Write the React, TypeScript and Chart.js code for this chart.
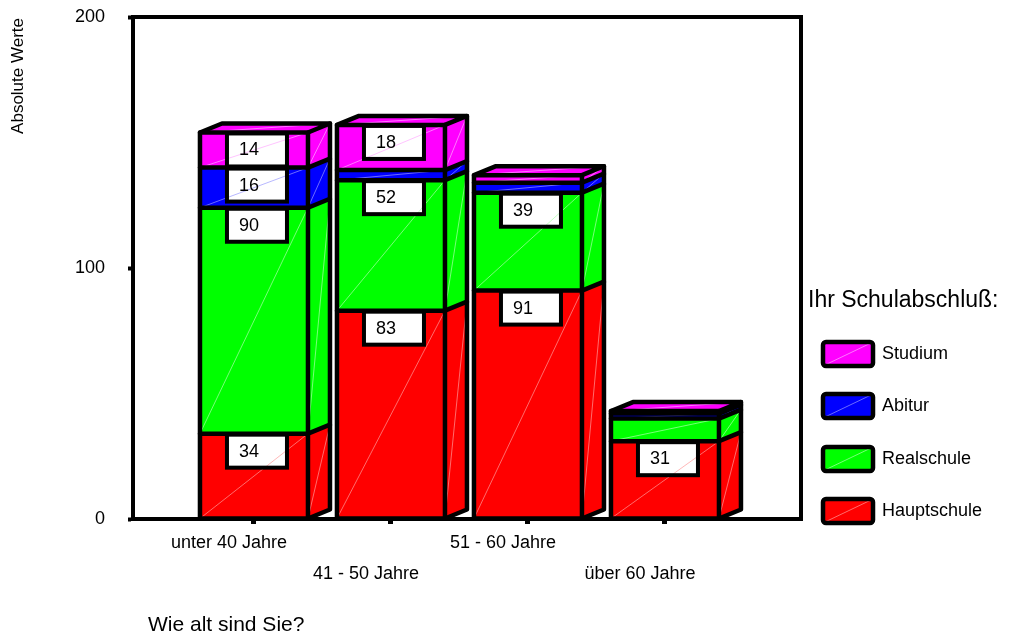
import React, { useEffect, useRef } from "react";
import { Chart, registerables } from "chart.js";

Chart.register(...registerables);

// ---------- data ----------
const ageGroups = ["unter 40 Jahre", "41 - 50 Jahre", "51 - 60 Jahre", "über 60 Jahre"];
const hauptschule = [34, 83, 91, 31];
const realschule = [90, 52, 39, 9];
const abitur = [16, 4, 4, 2];
const studium = [14, 18, 3, 1];
const seriesNames = ["Hauptschule", "Realschule", "Abitur", "Studium"];
const seriesValues = [hauptschule, realschule, abitur, studium];
const seriesColors = ["#ff0000", "#00ff00", "#0000ff", "#ff00ff"];
const seriesTints = ["#ff9a9a", "#aaffaa", "#9a9aff", "#ffaaff"];
const yTicks = [0, 100, 200];
const yTitle = "Absolute Werte";
const xTitle = "Wie alt sind Sie?";
const legendTitle = "Ihr Schulabschluß:";
const labelMin = 10;

// ---------- style ----------
const FF = "'Liberation Sans', Arial, sans-serif";
const DX = 22;
const DY = -9;
const LW = 4.5;

function poly(ctx: CanvasRenderingContext2D, pts: number[][]) {
  ctx.beginPath();
  ctx.moveTo(pts[0][0], pts[0][1]);
  for (let k = 1; k < pts.length; k++) ctx.lineTo(pts[k][0], pts[k][1]);
  ctx.closePath();
}

function line(ctx: CanvasRenderingContext2D, pts: number[][]) {
  ctx.beginPath();
  ctx.moveTo(pts[0][0], pts[0][1]);
  for (let k = 1; k < pts.length; k++) ctx.lineTo(pts[k][0], pts[k][1]);
  ctx.stroke();
}

const threeD = {
  id: "threeD",
  afterDatasetsDraw(chart: any) {
    const ctx: CanvasRenderingContext2D = chart.ctx;
    const metas = chart.data.datasets.map((_: any, d: number) => chart.getDatasetMeta(d));
    ctx.save();
    ctx.lineJoin = "round";
    ctx.lineCap = "round";
    for (let i = 0; i < ageGroups.length; i++) {
      const segs = metas
        .map((m: any, d: number) => {
          const p = m.data[i].getProps(["x", "y", "base", "width"], true);
          return {
            d,
            x: p.x,
            w: p.width,
            y: Math.min(p.y, p.base),
            b: Math.max(p.y, p.base),
            v: seriesValues[d][i],
          };
        })
        .filter((s: any) => s.v > 0);
      const xL = segs[0].x - segs[0].w / 2;
      const xR = segs[0].x + segs[0].w / 2;
      const base = segs[0].b;
      const ts = segs[segs.length - 1];
      const top = ts.y;

      // side faces
      segs.forEach((s: any) => {
        ctx.fillStyle = seriesColors[s.d];
        poly(ctx, [[xR, s.y], [xR + DX, s.y + DY], [xR + DX, s.b + DY], [xR, s.b]]);
        ctx.fill();
      });
      // top face
      ctx.fillStyle = seriesColors[ts.d];
      poly(ctx, [[xL, top], [xL + DX, top + DY], [xR + DX, top + DY], [xR, top]]);
      ctx.fill();

      // label boxes (fill)
      const boxes: any[] = [];
      segs.forEach((s: any) => {
        if (s.v >= labelMin) {
          const bx = segs[0].x - 27;
          const by = s.y + 1;
          boxes.push({ bx, by, v: s.v });
          ctx.fillStyle = "#ffffff";
          ctx.fillRect(bx, by, 60, 33);
        }
      });

      // faint diagonals
      ctx.lineWidth = 0.7;
      segs.forEach((s: any) => {
        ctx.strokeStyle = seriesTints[s.d];
        line(ctx, [[xL, s.b], [xR, s.y]]);
        line(ctx, [[xR, s.b], [xR + DX, s.y + DY]]);
      });
      ctx.strokeStyle = seriesTints[ts.d];
      line(ctx, [[xL, top], [xR + DX, top + DY]]);

      // outlines
      ctx.strokeStyle = "#000";
      ctx.lineWidth = LW;
      ctx.strokeRect(xL, top, xR - xL, base - top);
      segs.forEach((s: any, k: number) => {
        if (k < segs.length - 1) line(ctx, [[xL, s.y], [xR, s.y], [xR + DX, s.y + DY]]);
      });
      line(ctx, [[xL, top], [xL + DX, top + DY], [xR + DX, top + DY], [xR, top]]);
      line(ctx, [[xR + DX, top + DY], [xR + DX, base + DY], [xR, base]]);

      // boxes outline + text
      boxes.forEach((bx: any) => {
        ctx.lineWidth = 4;
        ctx.strokeStyle = "#000";
        ctx.lineJoin = "miter";
        ctx.strokeRect(bx.bx, bx.by, 60, 33);
        ctx.lineJoin = "round";
        ctx.fillStyle = "#000";
        ctx.font = `18px ${FF}`;
        ctx.textAlign = "left";
        ctx.textBaseline = "middle";
        ctx.fillText(String(bx.v), bx.bx + 12, bx.by + 17);
      });
    }
    ctx.restore();
  },
  afterDraw(chart: any) {
    const ctx: CanvasRenderingContext2D = chart.ctx;
    const a = chart.chartArea;
    ctx.save();
    // frame top + right
    ctx.strokeStyle = "#000";
    ctx.lineWidth = 4;
    ctx.lineCap = "square";
    line(ctx, [[a.left, a.top], [a.right, a.top], [a.right, a.bottom]]);

    ctx.fillStyle = "#000";
    // y title
    ctx.save();
    ctx.translate(18, a.top + 1);
    ctx.rotate(-Math.PI / 2);
    ctx.font = `17px ${FF}`;
    ctx.textAlign = "right";
    ctx.textBaseline = "middle";
    ctx.fillText(yTitle, 0, 0);
    ctx.restore();

    // x title
    ctx.font = `21px ${FF}`;
    ctx.textAlign = "left";
    ctx.textBaseline = "middle";
    ctx.fillText(xTitle, 148, 625);

    // legend
    ctx.font = `23px ${FF}`;
    ctx.fillText(legendTitle, 808, 301);
    const order = [3, 2, 1, 0];
    const centers = [354, 406, 459, 511];
    order.forEach((d, k) => {
      const cy = centers[k];
      ctx.beginPath();
      (ctx as any).roundRect(823, cy - 12, 50, 24, 3);
      ctx.fillStyle = seriesColors[d];
      ctx.fill();
      ctx.strokeStyle = seriesTints[d];
      ctx.lineWidth = 0.7;
      line(ctx, [[825, cy + 11], [871, cy - 11]]);
      ctx.beginPath();
      (ctx as any).roundRect(823, cy - 12, 50, 24, 3);
      ctx.strokeStyle = "#000";
      ctx.lineWidth = LW;
      ctx.stroke();
      ctx.fillStyle = "#000";
      ctx.font = `18px ${FF}`;
      ctx.fillText(seriesNames[d], 882, cy);
    });
    ctx.restore();
  },
};

export default function App() {
  const ref = useRef<HTMLCanvasElement>(null);
  useEffect(() => {
    const canvas = ref.current!;
    const datasets = seriesValues.map((vals, d) => ({
      label: seriesNames[d],
      data: vals.map((v, i) => ({ x: i, y: v })),
      backgroundColor: seriesColors[d],
      borderWidth: 0,
      barThickness: 108,
    }));
    const tickFont = { family: FF, size: 18, lineHeight: 31 / 18 };
    const chart = new Chart(canvas, {
      type: "bar",
      data: { datasets } as any,
      options: {
        animation: false,
        responsive: false,
        events: [],
        layout: { padding: { left: 0, top: 17, right: 215, bottom: 0 }, autoPadding: false },
        plugins: { legend: { display: false }, tooltip: { enabled: false } },
        scales: {
          x: {
            type: "linear",
            stacked: true,
            offset: false,
            min: -0.883,
            max: 3.993,
            afterBuildTicks: (s: any) => {
              s.ticks = ageGroups.map((_, i) => ({ value: i }));
            },
            afterFit: (s: any) => {
              s.height = 124;
              s.paddingLeft = 0;
              s.paddingRight = 0;
              s.paddingTop = 0;
              s.paddingBottom = 0;
            },
            ticks: {
              autoSkip: false,
              maxRotation: 0,
              minRotation: 0,
              labelOffset: -25,
              padding: 4,
              color: "#000",
              font: tickFont,
              callback: (_v: any, i: number) => (i % 2 ? ["", ageGroups[i]] : ageGroups[i]),
            },
            grid: { drawOnChartArea: false, offset: false, tickLength: 5, tickWidth: 5, tickColor: "#000" },
            border: { display: true, color: "#000", width: 4 },
          },
          y: {
            stacked: true,
            min: 0,
            max: 200,
            afterBuildTicks: (s: any) => {
              s.ticks = yTicks.map((v) => ({ value: v }));
            },
            afterFit: (s: any) => {
              s.width = 133;
              s.paddingLeft = 0;
              s.paddingRight = 0;
              s.paddingTop = 0;
              s.paddingBottom = 0;
            },
            ticks: { padding: 23, color: "#000", font: { family: FF, size: 18 } },
            grid: { drawOnChartArea: false, tickLength: 5, tickWidth: 4, tickColor: "#000" },
            border: { display: true, color: "#000", width: 4 },
          },
        },
      } as any,
      plugins: [threeD],
    });
    return () => chart.destroy();
  }, []);
  return (
    <div style={{ position: "fixed", left: 0, top: 0, width: 1016, height: 643, background: "#fff" }}>
      <canvas ref={ref} width={1016} height={643} style={{ display: "block" }} />
    </div>
  );
}
